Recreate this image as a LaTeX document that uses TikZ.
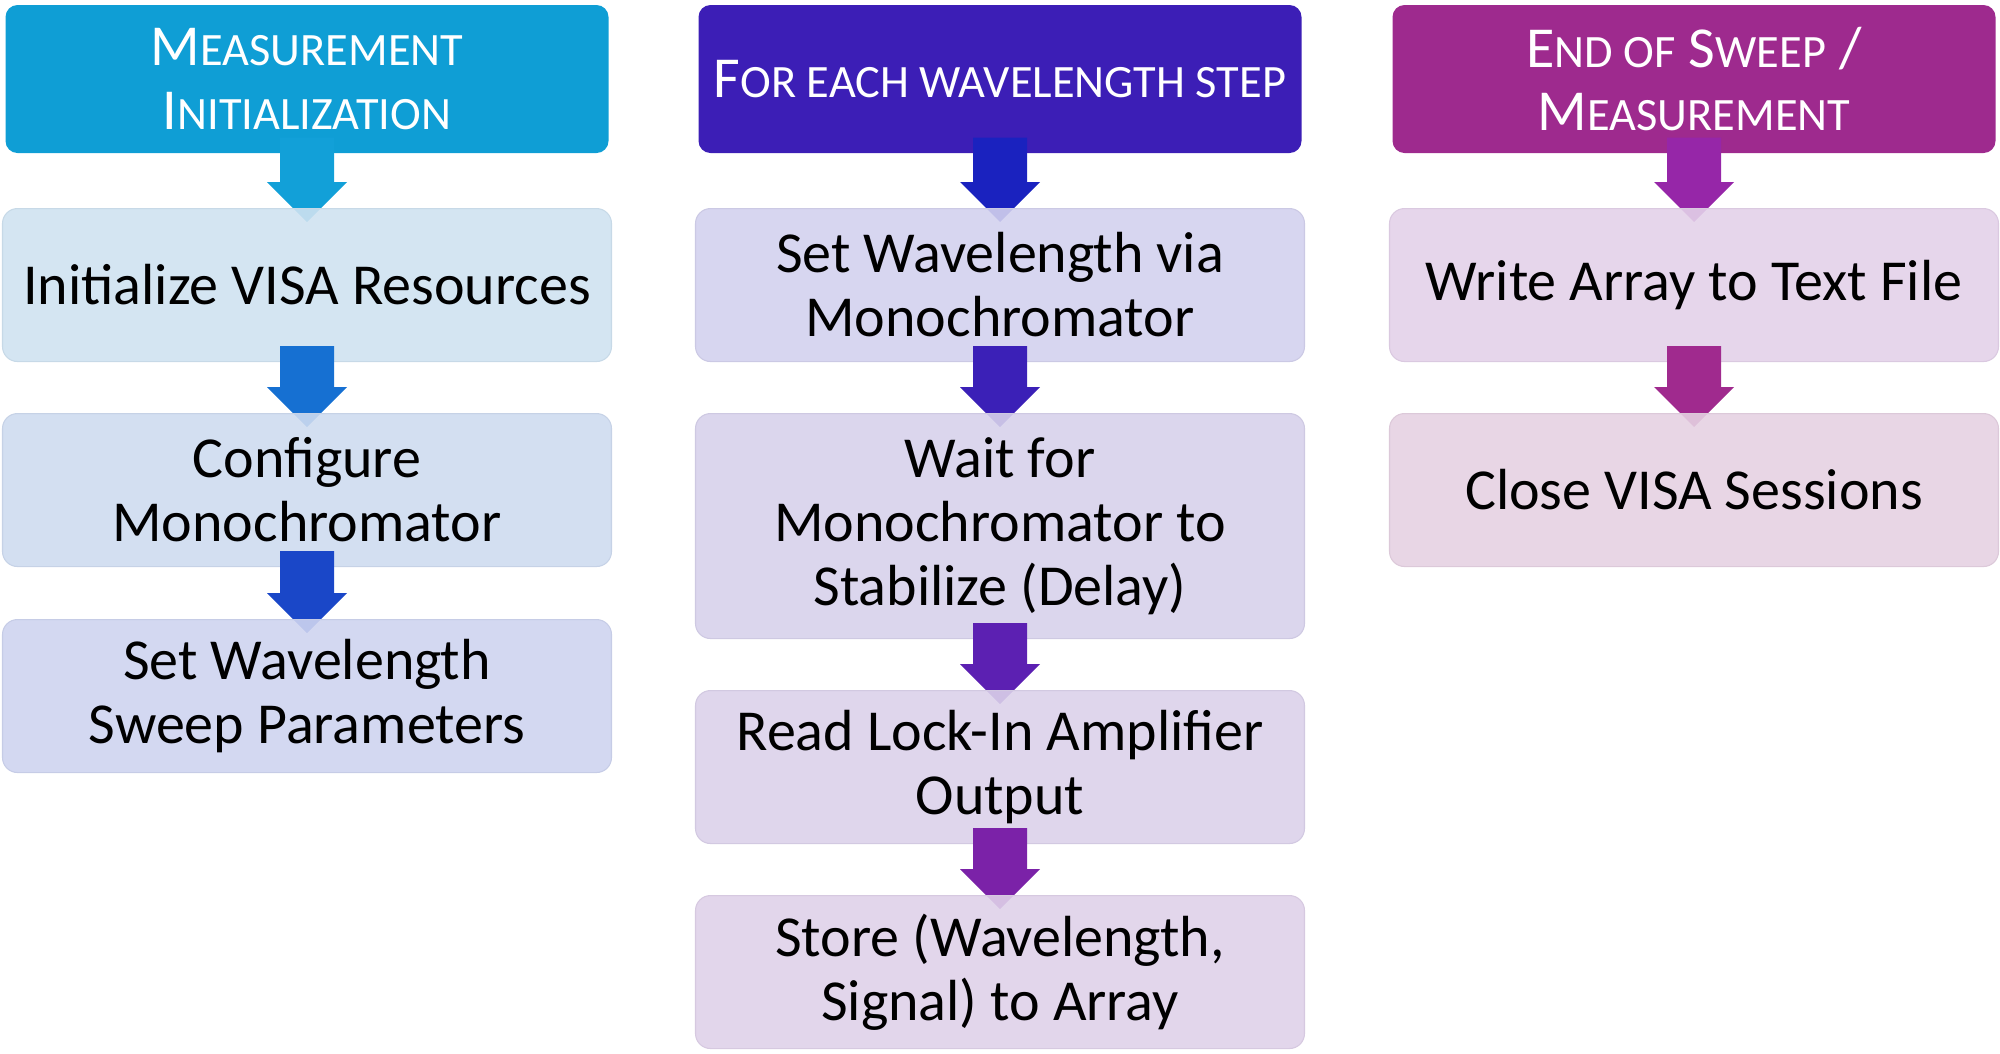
\documentclass[tikz,border=0pt]{standalone}
\usepackage{fontspec}
\setmainfont{Carlito}
\usepackage{xcolor}
\usepackage{tikz}
\usetikzlibrary{calc}

\definecolor{hdA}{HTML}{0F9ED5}
\definecolor{hdB}{HTML}{3C1EB6}
\definecolor{hdC}{HTML}{9E2A8E}
\definecolor{arA1}{HTML}{12A0D8}
\definecolor{arA2}{HTML}{1670D2}
\definecolor{arA3}{HTML}{1A47C8}
\definecolor{arB1}{HTML}{1A22BF}
\definecolor{arB2}{HTML}{3B20B7}
\definecolor{arB3}{HTML}{5C20B2}
\definecolor{arB4}{HTML}{7B22A8}
\definecolor{arC1}{HTML}{9626A8}
\definecolor{arC2}{HTML}{A02A8E}
\definecolor{bxA1}{HTML}{CFE2F1}
\definecolor{bxA2}{HTML}{CEDBF0}
\definecolor{bxA3}{HTML}{CED4F0}
\definecolor{bxB1}{HTML}{D3D1EE}
\definecolor{bxB2}{HTML}{D7D1EB}
\definecolor{bxB3}{HTML}{DBD1EA}
\definecolor{bxB4}{HTML}{DFD1E9}
\definecolor{bxC1}{HTML}{E3D1E9}
\definecolor{bxC2}{HTML}{E5D1E2}

% small capitals, faked as in the slide
\newcommand{\scs}[1]{{\fontsize{13.2pt}{18pt}\selectfont #1}}
% fat block arrow from a node down to the top of the next box
\newcommand{\flowarrow}[3]{%
  \fill[#3] ($(#1.south)+(-0.27,0.16)$) -- ($(#2)+(-0.27,0.26)$)
    -- ($(#2)+(-0.40,0.26)$) -- ($(#2)+(0,-0.14)$) -- ($(#2)+(0.40,0.26)$)
    -- ($(#2)+(0.27,0.26)$) -- ($(#1.south)+(0.27,0.16)$) -- cycle;}

\begin{document}
\begin{tikzpicture}[
  head/.style={rectangle, rounded corners=0.12cm, fill=#1,
               minimum width=6.03cm, minimum height=1.48cm, inner sep=0pt,
               align=center, text=white, font=\fontsize{16.5pt}{18pt}\selectfont},
  stepbox/.style={rectangle, rounded corners=0.15cm, fill=#1, fill opacity=0.9,
                  text opacity=1, draw=#1!96!black, line width=0.3pt,
                  anchor=north, minimum width=6.09cm, minimum height=1.53cm,
                  inner sep=0pt, align=center,
                  font=\fontsize{16.5pt}{18.2pt}\selectfont}
]
\useasboundingbox (0,0) rectangle (20,-10.53);

% column 1
\node[head=hdA] (init) at (3.07,-0.79) {M\scs{EASUREMENT}\\I\scs{NITIALIZATION}};
\coordinate (tA1) at (3.07,-2.08);
\flowarrow{init}{tA1}{arA1}
\node[stepbox=bxA1] (visa) at (tA1) {Initialize VISA Resources};
\coordinate (tA2) at (3.07,-4.13);
\flowarrow{visa}{tA2}{arA2}
\node[stepbox=bxA2] (config) at (tA2) {Configure\\Monochromator};
\coordinate (tA3) at (3.07,-6.19);
\flowarrow{config}{tA3}{arA3}
\node[stepbox=bxA3] (sweep) at (tA3) {Set Wavelength\\Sweep Parameters};

% column 2
\node[head=hdB] (loop) at (10,-0.79) {F\scs{OR EACH WAVELENGTH STEP}};
\coordinate (tB1) at (10,-2.08);
\flowarrow{loop}{tB1}{arB1}
\node[stepbox=bxB1] (setwl) at (tB1) {Set Wavelength via\\Monochromator};
\coordinate (tB2) at (10,-4.13);
\flowarrow{setwl}{tB2}{arB2}
\node[stepbox=bxB2, minimum height=2.25cm] (wait) at (tB2) {Wait for\\Monochromator to\\Stabilize (Delay)};
\coordinate (tB3) at (10,-6.90);
\flowarrow{wait}{tB3}{arB3}
\node[stepbox=bxB3] (read) at (tB3) {Read Lock-In Amplifier\\Output};
\coordinate (tB4) at (10,-8.95);
\flowarrow{read}{tB4}{arB4}
\node[stepbox=bxB4] (store) at (tB4) {Store (Wavelength,\\Signal) to Array};

% column 3
\node[head=hdC] (finish) at (16.94,-0.79) {E\scs{ND OF} S\scs{WEEP} /\\M\scs{EASUREMENT}};
\coordinate (tC1) at (16.94,-2.08);
\flowarrow{finish}{tC1}{arC1}
\node[stepbox=bxC1] (write) at (tC1) {Write Array to Text File};
\coordinate (tC2) at (16.94,-4.13);
\flowarrow{write}{tC2}{arC2}
\node[stepbox=bxC2] (close) at (tC2) {Close VISA Sessions};
\end{tikzpicture}
\end{document}
